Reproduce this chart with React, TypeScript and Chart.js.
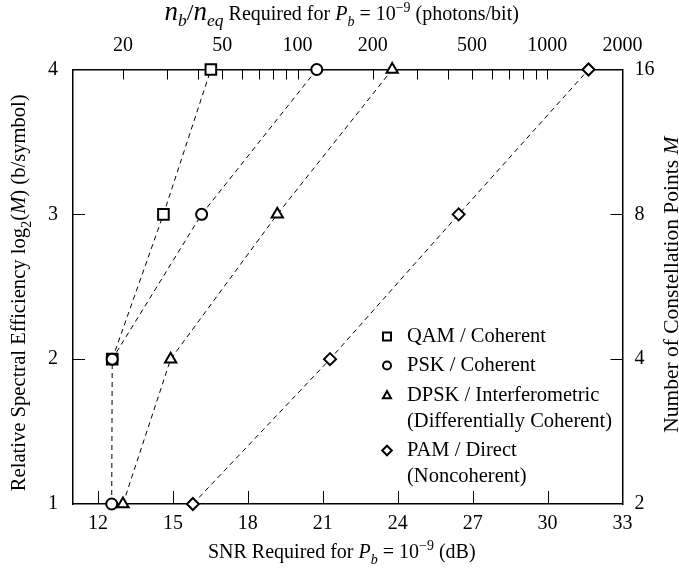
import React, { useEffect, useRef } from 'react';
import { Chart, registerables } from 'chart.js';
Chart.register(...registerables);

// ---- data ----
const bitsPerSymbol = [1, 2, 3, 4];
const qamSNR: (number | null)[] = [null, 12.57, 14.62, 16.52];
const pskSNR = [12.55, 12.57, 16.15, 20.76];
const dpskSNR = [13.0, 14.91, 19.18, 23.78];
const pamSNR = [15.8, 21.29, 26.44, 31.64];
const snrTicks = [12, 15, 18, 21, 24, 27, 30, 33];
const photonLabels = [20, 50, 100, 200, 500, 1000, 2000];
const photonTicks = [20, 30, 40, 50, 60, 70, 80, 90, 100, 200, 300, 400, 500, 600, 700, 800, 900, 1000, 2000];
const efficiencyTicks = [1, 2, 3, 4];
const constellationLabels = ['2', '4', '8', '16'];
const seriesNames = ['QAM / Coherent', 'PSK / Coherent', 'DPSK / Interferometric', 'PAM / Direct'];
const seriesSub = ['', '', '(Differentially Coherent)', '(Noncoherent)'];

const FONT = "'Liberation Serif', 'Times New Roman', serif";
const FS = 20;

type Run = { t: string; i?: boolean; sub?: boolean; sup?: boolean; scale?: number };

function drawRich(ctx: CanvasRenderingContext2D, runs: Run[], cx: number, cy: number, size: number, rot = 0) {
  const sizeFor = (r: Run) => {
    let s = size * (r.scale ?? 1);
    if (r.sub || r.sup) s = s * 0.7;
    return s;
  };
  const fontFor = (r: Run) => `${r.i ? 'italic ' : ''}${sizeFor(r)}px ${FONT}`;
  let total = 0;
  const widths = runs.map((r) => {
    ctx.font = fontFor(r);
    const w = ctx.measureText(r.t).width;
    total += w;
    return w;
  });
  ctx.save();
  ctx.translate(cx, cy);
  ctx.rotate(rot);
  ctx.fillStyle = '#000';
  ctx.textBaseline = 'alphabetic';
  ctx.textAlign = 'left';
  let x = -total / 2;
  const base = size * 0.35;
  runs.forEach((r, k) => {
    ctx.font = fontFor(r);
    let dy = base;
    if (r.sub) dy += size * 0.28;
    if (r.sup) dy -= size * 0.4;
    ctx.fillText(r.t, x, dy);
    x += widths[k];
  });
  ctx.restore();
}

function marker(ctx: CanvasRenderingContext2D, style: string, x: number, y: number, r: number) {
  ctx.beginPath();
  if (style === 'rect') {
    ctx.rect(x - r, y - r, 2 * r, 2 * r);
  } else if (style === 'circle') {
    ctx.arc(x, y, r, 0, Math.PI * 2);
  } else if (style === 'triangle') {
    ctx.moveTo(x, y - r * 1.1);
    ctx.lineTo(x + r, y + r * 0.7);
    ctx.lineTo(x - r, y + r * 0.7);
    ctx.closePath();
  } else {
    ctx.moveTo(x, y - r * 1.2);
    ctx.lineTo(x + r * 1.2, y);
    ctx.lineTo(x, y + r * 1.2);
    ctx.lineTo(x - r * 1.2, y);
    ctx.closePath();
  }
  ctx.fillStyle = '#fff';
  ctx.fill();
  ctx.lineWidth = 2;
  ctx.strokeStyle = '#000';
  ctx.stroke();
}

const styles = ['rect', 'circle', 'triangle', 'rectRot'];

const decorPlugin = {
  id: 'decor',
  beforeDatasetsDraw(chart: any) {
    const ctx: CanvasRenderingContext2D = chart.ctx;
    const a = chart.chartArea;
    const { x, xTop, y, yRight } = chart.scales;
    ctx.save();
    ctx.strokeStyle = '#000';
    ctx.lineWidth = 1;
    ctx.beginPath();
    snrTicks.forEach((v) => {
      const px = Math.round(x.getPixelForValue(v)) + 0.5;
      if (px > a.right - 2) return;
      ctx.moveTo(px, a.bottom);
      ctx.lineTo(px, a.bottom - 13);
    });
    photonTicks.forEach((v) => {
      const px = Math.round(xTop.getPixelForValue(v)) + 0.5;
      if (px > a.right - 2) return;
      ctx.moveTo(px, a.top);
      ctx.lineTo(px, a.top + 10);
    });
    efficiencyTicks.forEach((v) => {
      const py = Math.round(y.getPixelForValue(v)) + 0.5;
      if (py < a.top + 2 || py > a.bottom - 2) return;
      ctx.moveTo(a.left, py);
      ctx.lineTo(a.left + 12, py);
      const pr = Math.round(yRight.getPixelForValue(v)) + 0.5;
      ctx.moveTo(a.right, pr);
      ctx.lineTo(a.right - 12, pr);
    });
    ctx.stroke();
    ctx.restore();
  },
  afterDraw(chart: any) {
    const ctx: CanvasRenderingContext2D = chart.ctx;
    const a = chart.chartArea;
    const W = chart.width;
    const H = chart.height;
    const cx = (a.left + a.right) / 2 - 6;
    const cy = (a.top + a.bottom) / 2;
    // top title
    drawRich(ctx, [
      { t: 'n', i: true, scale: 1.35 }, { t: 'b', i: true, sub: true, scale: 1.25 }, { t: '/', scale: 1.2 },
      { t: 'n', i: true, scale: 1.35 }, { t: 'eq', i: true, sub: true, scale: 1.25 },
      { t: ' Required for ' }, { t: 'P', i: true }, { t: 'b', i: true, sub: true },
      { t: ' = 10' }, { t: '−9', sup: true }, { t: ' (photons/bit)' },
    ], cx, 13, FS);
    // bottom title
    drawRich(ctx, [
      { t: 'SNR Required for ' }, { t: 'P', i: true }, { t: 'b', i: true, sub: true },
      { t: ' = 10' }, { t: '−9', sup: true }, { t: ' (dB)' },
    ], cx, H - 17, FS);
    // left title
    drawRich(ctx, [
      { t: 'Relative Spectral Efficiency log' }, { t: '2', sub: true }, { t: '(' },
      { t: 'M', i: true }, { t: ') (b/symbol)' },
    ], 18, cy + 6, 20.6, -Math.PI / 2);
    // right title
    drawRich(ctx, [
      { t: 'Number of Constellation Points ' }, { t: 'M', i: true },
    ], W - 9, cy - 2, 21.5, -Math.PI / 2);

    // legend
    const lx = a.left + 314;
    const tx = a.left + 334;
    const rows = [a.top + 267, a.top + 296, a.top + 326, a.top + 381];
    ctx.save();
    ctx.textBaseline = 'middle';
    ctx.textAlign = 'left';
    rows.forEach((ry, k) => {
      ctx.save();
      marker(ctx, styles[k], lx, ry, 4);
      ctx.restore();
      ctx.fillStyle = '#000';
      ctx.font = `20.5px ${FONT}`;
      ctx.fillText(seriesNames[k], tx, ry);
      if (seriesSub[k]) ctx.fillText(seriesSub[k], tx, ry + 26);
    });
    ctx.restore();
  },
};

function ds(label: string, values: (number | null)[], style: string, r: number) {
  return {
    label,
    data: bitsPerSymbol
      .map((b, k) => (values[k] == null ? null : { x: values[k] as number, y: b }))
      .filter((p) => p !== null),
    borderColor: '#000',
    borderWidth: 1,
    borderDash: [5, 4],
    pointStyle: style,
    pointRadius: r,
    pointBorderWidth: 2,
    pointBackgroundColor: '#fff',
    pointBorderColor: '#000',
    fill: false,
    tension: 0,
    clip: false,
    xAxisID: 'x',
    yAxisID: 'y',
  };
}

export default function App() {
  const ref = useRef<HTMLCanvasElement | null>(null);
  useEffect(() => {
    document.body.style.margin = '0';
    const canvas = ref.current!;
    const tickFont = { family: FONT, size: FS };
    const chart = new Chart(canvas, {
      type: 'line',
      data: {
        datasets: [
          ds('PAM / Direct', pamSNR, 'rectRot', 6),
          ds('DPSK / Interferometric', dpskSNR, 'triangle', 6.5),
          ds('PSK / Coherent', pskSNR, 'circle', 5.5),
          ds('QAM / Coherent', qamSNR, 'rect', 7.5),
        ] as any,
      },
      options: {
        responsive: false,
        animation: false,
        maintainAspectRatio: false,
        layout: { padding: 0 },
        plugins: { legend: { display: false }, tooltip: { enabled: false } },
        scales: {
          x: {
            type: 'linear',
            position: 'bottom',
            min: 11,
            max: 33,
            afterBuildTicks: (s: any) => { s.ticks = snrTicks.map((v) => ({ value: v })); },
            grid: { display: false, drawTicks: false },
            border: { display: true, color: '#000', width: 1.5 },
            ticks: { color: '#000', font: tickFont, padding: 8, maxRotation: 0, autoSkip: false },
            afterFit: (s: any) => { s.height = 64; },
          },
          xTop: {
            type: 'logarithmic',
            position: 'top',
            min: Math.pow(10, 1.1) * (2000 / Math.pow(10, 3.3)),
            max: 2000,
            afterBuildTicks: (s: any) => { s.ticks = photonLabels.map((v) => ({ value: v })); },
            grid: { display: false, drawTicks: false },
            border: { display: true, color: '#000', width: 1.5 },
            ticks: {
              color: '#000', font: tickFont, padding: 12, maxRotation: 0, autoSkip: false,
              callback: (v: any) => String(v),
            },
            afterFit: (s: any) => { s.height = 69.5; },
          },
          y: {
            type: 'linear',
            position: 'left',
            min: 1,
            max: 4,
            afterBuildTicks: (s: any) => { s.ticks = efficiencyTicks.map((v) => ({ value: v })); },
            grid: { display: false, drawTicks: false },
            border: { display: true, color: '#000', width: 1.5 },
            ticks: { color: '#000', font: tickFont, padding: 15 },
            afterFit: (s: any) => { s.width = 73; },
          },
          yRight: {
            type: 'linear',
            position: 'right',
            min: 1,
            max: 4,
            afterBuildTicks: (s: any) => { s.ticks = efficiencyTicks.map((v) => ({ value: v })); },
            grid: { display: false, drawTicks: false },
            border: { display: true, color: '#000', width: 1.5 },
            ticks: {
              color: '#000', font: tickFont, padding: 12,
              callback: (v: any) => constellationLabels[efficiencyTicks.indexOf(Number(v))] ?? '',
            },
            afterFit: (s: any) => { s.width = 56.5; },
          },
        },
      } as any,
      plugins: [decorPlugin],
    });
    return () => chart.destroy();
  }, []);
  return (
    <div style={{ width: 679, height: 568, background: '#fff' }}>
      <canvas ref={ref} width={679} height={568} style={{ display: 'block' }} />
    </div>
  );
}
